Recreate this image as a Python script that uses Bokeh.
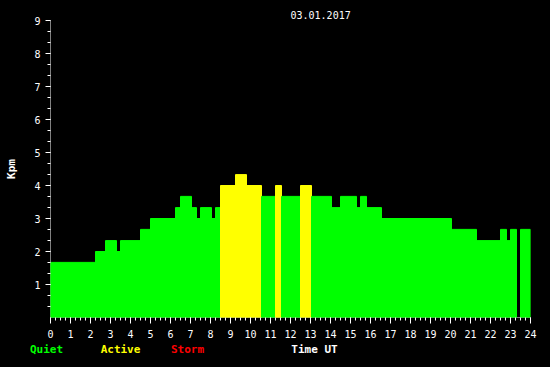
from bokeh.plotting import figure
from bokeh.models import FixedTicker, Span, Title, Range1d
from bokeh.layouts import column
from bokeh.core.properties import value
from bokeh.embed import file_html
from bokeh.resources import INLINE

# Kp segments (hours UT)
seg_start = [0.00, 2.25, 2.75, 3.30, 3.50, 4.50, 5.00, 6.25, 6.50, 7.05, 7.30, 7.50, 8.05, 8.25,
             8.50, 9.25, 9.80, 10.55, 11.25, 11.55, 12.50, 13.05, 14.05, 14.50, 15.30, 15.50,
             15.80, 16.55, 20.05, 21.30, 22.50, 22.80, 23.00, 23.50]
seg_end = [2.25, 2.75, 3.30, 3.50, 4.50, 5.00, 6.25, 6.50, 7.05, 7.30, 7.50, 8.05, 8.25, 8.50,
           9.25, 9.80, 10.55, 11.25, 11.55, 12.50, 13.05, 14.05, 14.50, 15.30, 15.50, 15.80,
           16.55, 20.05, 21.30, 22.50, 22.80, 23.00, 23.30, 24.00]
kp_values = [1.67, 2.00, 2.33, 2.00, 2.33, 2.67, 3.00, 3.33, 3.67, 3.33, 3.00, 3.33, 3.00, 3.33,
             4.00, 4.33, 4.00, 3.67, 4.00, 3.67, 4.00, 3.67, 3.33, 3.67, 3.33, 3.67,
             3.33, 3.00, 2.67, 2.33, 2.67, 2.33, 2.67, 2.67]

x_ticks = list(range(0, 25))
y_ticks = list(range(1, 10))
legend_names = ["Quiet", "Active", "Storm", "Time UT"]
legend_colors = ["#00ff00", "#ffff00", "#ff0000", "#ffffff"]
date_text = "03.01.2017"

mono = "DejaVu Sans Mono"
black_bg = {"background-color": "black"}


def kp_color(v):
    if v >= 5:
        return legend_colors[2]
    if v >= 4:
        return legend_colors[1]
    return legend_colors[0]


colors = [kp_color(v) for v in kp_values]

p = figure(width=550, height=342, x_range=(0, 24), y_range=(0, 9),
           output_backend="svg", toolbar_location=None,
           min_border_left=50, min_border_right=20, min_border_top=20, min_border_bottom=25,
           background_fill_color="black", border_fill_color="black", styles=black_bg)
p.frame_align = False
p.outline_line_color = None
p.grid.visible = False

# axis base lines, drawn beneath the bars
p.add_layout(Span(location=0, dimension="width", line_color="white", line_width=1, level="underlay"))
p.add_layout(Span(location=0, dimension="height", line_color="white", line_width=1, level="underlay"))

p.quad(left=seg_start, right=seg_end, bottom=0, top=kp_values,
       fill_color=colors, line_color=colors, line_width=1)

p.xaxis.ticker = FixedTicker(ticks=x_ticks, minor_ticks=[i * 0.25 for i in range(0, 97)])
p.yaxis.ticker = FixedTicker(ticks=y_ticks, minor_ticks=[i / 3 for i in range(1, 28)])
for ax in (p.xaxis, p.yaxis):
    ax.axis_line_color = None
    ax.major_tick_line_color = "white"
    ax.minor_tick_line_color = "white"
    ax.major_tick_in = 0
    ax.minor_tick_in = 0
    ax.major_label_text_color = "white"
    ax.major_label_text_font = mono
    ax.major_label_text_font_size = "10px"
p.xaxis.major_tick_out = 6
p.xaxis.minor_tick_out = 3
p.xaxis.major_label_standoff = 6
p.yaxis.major_tick_out = 5
p.yaxis.minor_tick_out = 3
p.yaxis.major_label_standoff = 5
p.yaxis.axis_label = "Kpm"
p.yaxis.axis_label_text_color = "white"
p.yaxis.axis_label_text_font = mono
p.yaxis.axis_label_text_font_size = "11px"
p.yaxis.axis_label_text_font_style = "bold"
p.yaxis.axis_label_standoff = 13

p.add_layout(Title(text=date_text, text_color="white", text_font=mono, text_font_size="10px",
                   text_font_style="normal", align="left", offset=240, standoff=3), "above")

# bottom strip with the colour key and the axis name
leg = figure(width=550, height=25, x_range=Range1d(0, 550), y_range=Range1d(25, 0),
             output_backend="svg", toolbar_location=None,
             min_border_left=0, min_border_right=0, min_border_top=0, min_border_bottom=0,
             x_axis_type=None, y_axis_type=None,
             background_fill_color="black", border_fill_color="black", styles=black_bg)
leg.frame_align = False
leg.outline_line_color = None
leg.grid.visible = False
legend_px = [46, 120, 187, 314]
leg.text(x=legend_px, y=[7] * 4, text=legend_names, text_color=legend_colors,
         text_align="center", text_baseline="middle", text_font=value(mono),
         text_font_size=value("11px"), text_font_style=value("bold"))

layout = column(p, leg, spacing=0, styles=black_bg)
html = file_html(layout, INLINE)
html = html.replace("<body>", '<body style="margin:0;background-color:black;">', 1)
open("out.html", "w").write(html)
